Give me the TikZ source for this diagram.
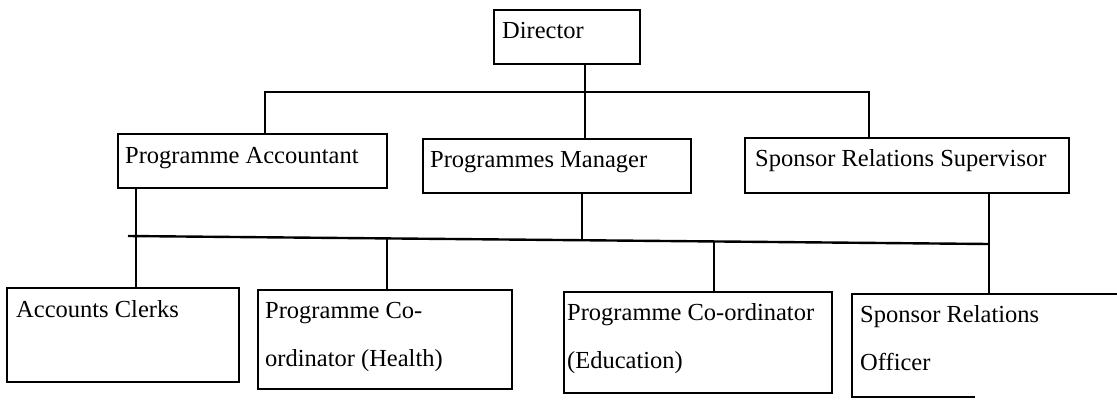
\documentclass[tikz,border=0pt]{standalone}
\usepackage{fontspec}
\setmainfont{Liberation Serif}
\usetikzlibrary{calc}
\begin{document}
\begin{tikzpicture}[x=1pt,y=-1pt,
  box/.style={draw,line width=2.8pt,rectangle,inner sep=0pt,outer sep=0pt,anchor=north west},
  lbl/.style={anchor=base west,inner sep=0pt,font=\fontsize{24.5}{48}\selectfont},
  conn/.style={line width=2.4pt}]
\useasboundingbox (0,0) rectangle (1117,408);
\clip (0,0) rectangle (1117,408);
\fill[white] (0,0) rectangle (1117,408);
% boxes
\node[box,minimum width=146pt,minimum height=54pt] (dir) at (494,10) {};
\node[box,minimum width=269pt,minimum height=54pt] (acc) at (118,134) {};
\node[box,minimum width=268pt,minimum height=54pt] (mgr) at (423,139) {};
\node[box,minimum width=324pt,minimum height=55pt] (sup) at (745,138) {};
\node[box,minimum width=232pt,minimum height=94pt] (clk) at (7,288) {};
\node[box,minimum width=254pt,minimum height=99pt] (hea) at (258,290) {};
\node[box,minimum width=268pt,minimum height=101pt] (edu) at (564,292) {};
\node[box,draw=none,minimum width=280pt,minimum height=103pt] (off) at (852,294) {};
\draw[line width=2.8pt] (off.north east) -- (off.north west) -- (off.south west) -- ($(off.south west)+(123,0)$);
% texts
\node[lbl] (tdir) at (502,38) {Director};
\node[lbl] (tacc) at (125,163) {Programme Accountant};
\node[lbl] (tmgr) at (430,167) {Programmes Manager};
\node[lbl] (tsup) at (755,166) {Sponsor Relations Supervisor};
\node[lbl] (tclk) at (16,317) {Accounts Clerks};
\node[lbl] (thea1) at (265,318) {Programme Co-};
\node[lbl] (thea2) at (265,366) {ordinator (Health)};
\node[lbl] (tedu1) at (567,320) {Programme Co-ordinator};
\node[lbl] (tedu2) at (567,368) {(Education)};
\node[lbl] (toff1) at (860,322) {Sponsor Relations};
\node[lbl] (toff2) at (860,370) {Officer};
% junctions
\coordinate (tj) at (585,92);
\coordinate (tl) at (265,92);
\coordinate (tr) at (869,92);
\coordinate (b0) at (128,236);
\coordinate (b1) at (136,236);
\coordinate (b2) at (387,239);
\coordinate (b3) at (582,240);
\coordinate (b4) at (714,242);
\coordinate (b5) at (989,244);
% connectors
\draw[conn] (dir.south -| tj) -- (mgr.north -| tj);
\draw[conn] (acc.north -| tl) -- (tl) -- (tr) -- (sup.north -| tr);
\draw[conn] (acc.south -| b1) -- (clk.north -| b1);
\draw[conn] (b0) -- (b5);
\draw[conn] (mgr.south -| b3) -- (b3);
\draw[conn] (b2) -- (hea.north -| b2);
\draw[conn] (b4) -- (edu.north -| b4);
\draw[conn] (sup.south -| b5) -- (off.north -| b5);
\end{tikzpicture}
\end{document}
